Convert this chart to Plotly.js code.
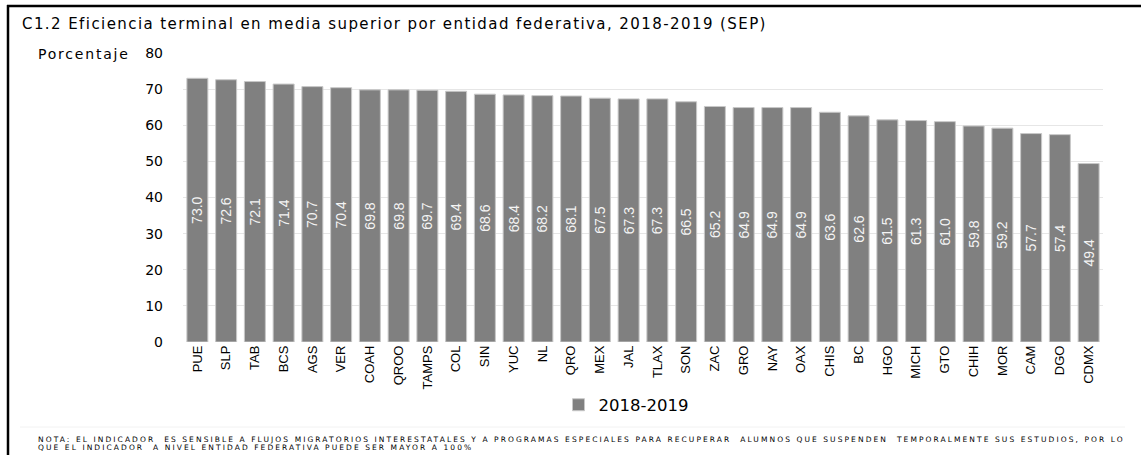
<!DOCTYPE html>
<html>
<head>
<meta charset="utf-8">
<script src="https://cdn.plot.ly/plotly-3.0.1.min.js"></script>
<style>
html,body{margin:0;padding:0;background:#fff;}
#chart{width:1141px;height:455px;}
#chart g.annotation[data-index="0"] text{letter-spacing:1.42px;}
#chart g.annotation[data-index="1"] text{letter-spacing:1.8px;}
#chart g.annotation[data-index="2"] text,
#chart g.annotation[data-index="3"] text{letter-spacing:2.08px;}
</style>
</head>
<body>
<div id="chart"></div>
<script>
const estados = ["PUE","SLP","TAB","BCS","AGS","VER","COAH","QROO","TAMPS","COL","SIN","YUC","NL","QRO","MEX","JAL","TLAX","SON","ZAC","GRO","NAY","OAX","CHIS","BC","HGO","MICH","GTO","CHIH","MOR","CAM","DGO","CDMX"];
const eficiencia = [73.0,72.6,72.1,71.4,70.7,70.4,69.8,69.8,69.7,69.4,68.6,68.4,68.2,68.1,67.5,67.3,67.3,66.5,65.2,64.9,64.9,64.9,63.6,62.6,61.5,61.3,61.0,59.8,59.2,57.7,57.4,49.4];
const serie = "2018-2019";
const yTicks = [0,10,20,30,40,50,60,70,80];
const titulo = "C1.2 Eficiencia terminal en media superior por entidad federativa, 2018-2019 (SEP)";
const ejeY = "Porcentaje";
const nota1 = "NOTA: EL INDICADOR  ES SENSIBLE A FLUJOS MIGRATORIOS INTERESTATALES Y A PROGRAMAS ESPECIALES PARA RECUPERAR  ALUMNOS QUE SUSPENDEN  TEMPORALMENTE SUS ESTUDIOS, POR LO";
const nota2 = "QUE EL INDICADOR  A NIVEL ENTIDAD FEDERATIVA PUEDE SER MAYOR A 100%";

const W = 1141, H = 455;
const M = {l:183, r:38, t:53, b:113};
const pw = W - M.l - M.r, ph = H - M.t - M.b;
const px = x => (x - M.l) / pw;
const py = y => (H - M.b - y) / ph;
const WIDE = '"DejaVu Sans", "Liberation Sans", sans-serif';

const trace = {
  type: 'bar',
  x: estados,
  y: eficiencia,
  name: serie,
  marker: {color: '#808080', line: {color: '#c8c8c8', width: 1}},
  text: eficiencia.map(v => v.toFixed(1)),
  textposition: 'inside',
  insidetextanchor: 'middle',
  textangle: -90,
  constraintext: 'none',
  textfont: {family: '"Liberation Sans", Arial, sans-serif', size: 14, color: '#f4f4f4'},
  hoverinfo: 'x+y'
};

const layout = {
  width: W, height: H,
  margin: M,
  paper_bgcolor: '#fff', plot_bgcolor: '#fff',
  font: {family: '"Liberation Sans", Arial, sans-serif', color: '#000'},
  bargap: 0.27,
  showlegend: true,
  legend: {orientation: 'h', x: px(626), xanchor: 'center', y: py(405), yanchor: 'middle',
           font: {size: 16.5, color: '#000', family: WIDE}, itemwidth: 30},
  xaxis: {
    type: 'category', tickangle: -90, tickfont: {size: 13, color: '#000'},
    showgrid: false, showline: false, ticks: '', zeroline: false
  },
  yaxis: {
    range: [0, 80], tickvals: yTicks, ticktext: yTicks.map(String),
    tickfont: {size: 14, color: '#000', family: WIDE},
    showgrid: true, gridcolor: '#e6e6e6', gridwidth: 1,
    zeroline: false, showline: false, ticks: '', ticklabelstandoff: 19
  },
  annotations: [
    {text: titulo, xref: 'paper', yref: 'paper', x: px(20), y: py(24), xanchor: 'left', yanchor: 'middle', align: 'left',
     showarrow: false, font: {size: 15, color: '#000', family: WIDE}},
    {text: ejeY, xref: 'paper', yref: 'paper', x: px(36), y: py(54), xanchor: 'left', yanchor: 'middle', align: 'left',
     showarrow: false, font: {size: 14, color: '#000', family: WIDE}},
    {text: nota1, xref: 'paper', yref: 'paper', x: px(36), y: py(440), xanchor: 'left', yanchor: 'middle',
     align: 'left', showarrow: false, font: {size: 7.5, color: '#000', family: WIDE}},
    {text: nota2, xref: 'paper', yref: 'paper', x: px(36), y: py(447.5), xanchor: 'left', yanchor: 'middle',
     align: 'left', showarrow: false, font: {size: 7.5, color: '#000', family: WIDE}}
  ],
  shapes: [
    {type: 'line', xref: 'paper', yref: 'paper', x0: px(8), x1: px(8), y0: py(5), y1: py(470), line: {color: '#000', width: 2.5}},
    {type: 'line', xref: 'paper', yref: 'paper', x0: px(7), x1: px(1160), y0: py(6), y1: py(6), line: {color: '#000', width: 2.5}},
    {type: 'line', xref: 'paper', yref: 'paper', x0: px(20), x1: px(1125), y0: py(427), y1: py(427), line: {color: '#f2f2f2', width: 1}}
  ]
};

Plotly.newPlot('chart', [trace], layout, {displayModeBar: false, staticPlot: true});
</script>
</body>
</html>
